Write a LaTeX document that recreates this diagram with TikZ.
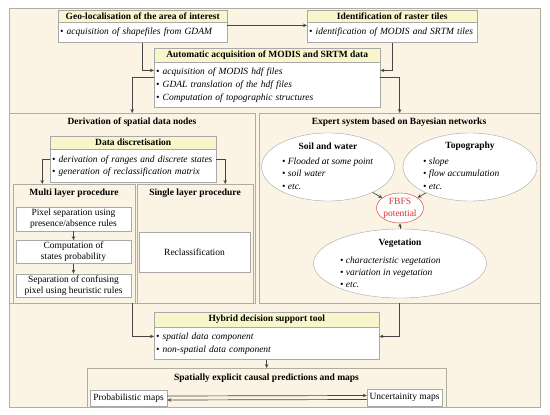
\documentclass[tikz,border=0pt]{standalone}
\usepackage{fontspec}
\setmainfont{Liberation Serif}
\usepackage{tikz}
\usetikzlibrary{arrows.meta,positioning,shapes.geometric}
\definecolor{panelbg}{RGB}{251,243,228}
\definecolor{framegray}{RGB}{178,172,160}
\definecolor{boxgray}{RGB}{168,168,168}
\definecolor{headyellow}{RGB}{248,246,202}
\definecolor{arrowgray}{RGB}{70,70,70}
\definecolor{fbfsred}{RGB}{212,50,50}

\begin{document}
\begin{tikzpicture}[
  x=1pt, y=-1pt,
  font=\fontsize{9.5}{12.5}\selectfont,
  panel/.style={draw=framegray, fill=panelbg, anchor=north west, inner sep=0pt},
  hdr/.style={draw=boxgray, fill=headyellow, font=\fontsize{9.5}{12.5}\selectfont\bfseries, anchor=north west, inner sep=0pt},
  bodybox/.style={draw=boxgray, fill=white, align=left, anchor=north west, inner xsep=2pt, inner ysep=0pt, font=\fontsize{9.5}{12.6}\selectfont\itshape},
  stepbox/.style={draw=boxgray, fill=white, align=center, inner sep=0pt, font=\fontsize{9.5}{11}\selectfont},
  bnode/.style={ellipse, draw=boxgray, fill=white, inner sep=0pt},
  ttl/.style={font=\fontsize{9.5}{12.5}\selectfont\bfseries, inner sep=0pt},
  blist/.style={align=left, anchor=north west, inner sep=0pt, font=\fontsize{9.5}{12.2}\selectfont\itshape},
  arr/.style={-{Stealth[length=4pt,width=3.5pt]}, draw=arrowgray, line width=0.7pt}
]
\useasboundingbox (0,0) rectangle (550,415);
\node[panel, minimum width=531, minimum height=399] (back) at (9,8) {};

% data acquisition
\node[hdr, minimum width=169, minimum height=12] (geoh) at (58,10) {Geo-localisation of the area of interest};
\node[bodybox, text width=165, minimum height=20, below=0pt of geoh] (geob) {• acquisition of shapefiles from GDAM};
\node[hdr, minimum width=170, minimum height=12] (identh) at (307,10) {Identification of raster tiles};
\node[bodybox, text width=166, minimum height=20, below=0pt of identh] (identb) {• identification of MODIS and SRTM tiles};
\node[hdr, minimum width=226, minimum height=14] (autoh) at (154,48) {Automatic acquisition of MODIS and SRTM data};
\node[bodybox, text width=222, minimum height=45, below=0pt of autoh] (autob) {• acquisition of MODIS hdf files\\• GDAL translation of the hdf files\\• Computation of topographic structures};

% spatial data nodes
\node[panel, minimum width=246, minimum height=190] (leftp) at (9,113) {};
\node[ttl] (derivt) at (132,122) {Derivation of spatial data nodes};
\node[hdr, minimum width=166, minimum height=13] (ddh) at (50,136) {Data discretisation};
\node[bodybox, text width=162, minimum height=33, below=0pt of ddh] (ddb) {• derivation of ranges and discrete states\\• generation of reclassification matrix};
\node[panel, minimum width=122, minimum height=119] (multi) at (13,184) {};
\node[panel, minimum width=116, minimum height=119] (single) at (137,184) {};
\node[ttl] (multit) at (74,193) {Multi layer procedure};
\node[ttl] (singlet) at (195,193) {Single layer procedure};
\node[stepbox, minimum width=115, minimum height=24] (pixsep) at (73.5,219) {Pixel separation using\\presence/absence rules};
\node[stepbox, minimum width=115, minimum height=23, below=9pt of pixsep] (stateprob) {Computation of\\states probability};
\node[stepbox, minimum width=115, minimum height=23, below=10pt of stateprob] (confsep) {Separation of confusing\\pixel using heuristic rules};
\node[stepbox, minimum width=111, minimum height=40] (reclass) at (194.5,252) {Reclassification};

% bayesian network
\node[panel, minimum width=281, minimum height=190] (rightp) at (259,113) {};
\node[ttl] (expertt) at (399,122) {Expert system based on Bayesian networks};
\node[bnode, minimum width=133, minimum height=68] (soil) at (328,167) {};
\node[ttl] (soilt) at (328,146) {Soil and water};
\node[blist] (soill) at (282,158) {• Flooded at some point\\• soil water\\• etc.};
\node[bnode, minimum width=134, minimum height=68] (topo) at (470,167) {};
\node[ttl] (topot) at (470,146) {Topography};
\node[blist] (topol) at (423,158) {• slope\\• flow accumulation\\• etc.};
\node[bnode, draw=fbfsred, text=fbfsred, minimum width=45, minimum height=30, align=center, font=\fontsize{9.5}{12}\selectfont] (fbfs) at (400,208) {FBFS\\potential};
\node[bnode, minimum width=173, minimum height=69] (veg) at (400,263.5) {};
\node[ttl] (vegt) at (400,243) {Vegetation};
\node[blist] (vegl) at (340,256.5) {• characteristic vegetation\\• variation in vegetation\\• etc.};

% decision tool and outputs
\node[hdr, minimum width=225, minimum height=15] (hybh) at (154,312) {Hybrid decision support tool};
\node[bodybox, text width=221, minimum height=32, below=0pt of hybh] (hybb) {• spatial data component\\• non-spatial data component};
\node[panel, minimum width=359, minimum height=39] (spat) at (87,368) {};
\node[ttl] (spatt) at (266.5,378) {Spatially explicit causal predictions and maps};
\node[stepbox, minimum width=77, minimum height=16] (prob) at (128.5,398) {Probabilistic maps};
\node[stepbox, minimum width=75, minimum height=17] (unc) at (404.5,397.5) {Uncertainity maps};

\draw[arr] ([yshift=-3pt]geob.north east) -- ([yshift=-3pt]identb.north west);
\draw[arr] (geob.south) |- ([yshift=-8pt]autob.north west);
\draw[arr] (identb.south) |- ([yshift=-8pt]autob.north east);
\draw[arr] ([yshift=-15pt]autob.north west) -| (leftp.north);
\draw[arr] ([yshift=-15pt]autob.north east) -| (rightp.north);
\draw[arr] ([yshift=-10pt]ddb.north west) -| ([xshift=-32pt]multi.north);
\draw[arr] ([yshift=-10pt]ddb.north east) -| ([xshift=30pt]single.north);
\draw[arr] (pixsep) -- (stateprob);
\draw[arr] (stateprob) -- (confsep);
\draw[arr] (soil) -- (fbfs);
\draw[arr] (topo) -- (fbfs);
\draw[arr] (veg) -- (fbfs);
\draw[arr] (leftp.south) |- ([yshift=-9pt]hybb.north west);
\draw[arr] (rightp.south) |- ([yshift=-9pt]hybb.north east);
\draw[arr] (hybb) -- (spat);
\draw[arr] ([yshift=2pt]prob.east) -- ([yshift=2pt]unc.west);
\draw[arr] ([yshift=-2pt]unc.west) -- ([yshift=-2pt]prob.east);
\end{tikzpicture}
\end{document}
